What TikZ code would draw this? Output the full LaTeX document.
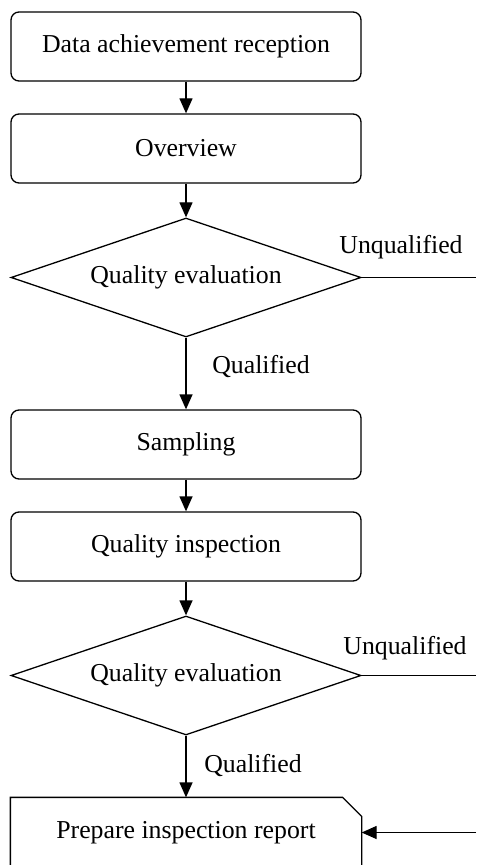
\documentclass[tikz,border=0pt]{standalone}
\usepackage{fontspec}
\setmainfont{Liberation Serif}
\usetikzlibrary{shapes.geometric}
\usetikzlibrary{arrows.meta}
\tikzset{
  stepbox/.style={draw, rounded corners=4pt, minimum width=175pt, minimum height=34.5pt, inner sep=0pt},
  decision/.style={draw, diamond, aspect=2.9, minimum width=175pt, minimum height=59.5pt, inner sep=0pt},
  flow/.style={-{Triangle[length=7.5pt,width=6.5pt]}}
}

\begin{document}
\begin{tikzpicture}[x=0.5pt, y=-0.5pt, line width=0.65pt, font=\fontsize{12.9}{15.5}\selectfont]
    \useasboundingbox (0,0) rectangle (476,865);
    \clip (0,0) rectangle (476,865);
    % steps
    \node[stepbox] (recv) at (186,46.5) {Data achievement reception};
    \node[stepbox] (over) at (186,148.5) {Overview};
    \node[decision] (eval1) at (186,277.5) {Quality evaluation};
    \node[stepbox] (samp) at (186,444.5) {Sampling};
    \node[stepbox] (insp) at (186,546.5) {Quality inspection};
    \node[decision] (eval2) at (186,675.5) {Quality evaluation};
    % report, top right corner cut
    \node[minimum width=175pt, minimum height=34.5pt, inner sep=0pt] (report) at (186,832.5) {Prepare inspection report};
    \draw (report.south west) -- (report.north west) -- ([xshift=-9.5pt]report.north east)
        -- ([yshift=-9.5pt]report.north east) -- (report.south east) -- cycle;
    % labels
    \node (unq1) at (401,247) {Unqualified};
    \node (qual1) at (261,367) {Qualified};
    \node (unq2) at (405,648) {Unqualified};
    \node (qual2) at (253,765) {Qualified};
    % loose ends at the right edge
    \coordinate (out1) at (476,277.5);
    \coordinate (out2) at (476,675.5);
    \coordinate (back) at (476,832.5);
    % connectors
    \draw[flow] (recv) -- (over);
    \draw[flow] (over) -- (eval1);
    \draw[flow] (eval1) -- (samp);
    \draw[flow] (samp) -- (insp);
    \draw[flow] (insp) -- (eval2);
    \draw[flow] (eval2) -- (report);
    \draw (eval1) -- (out1);
    \draw (eval2) -- (out2);
    \draw[flow] (back) -- (report);
\end{tikzpicture}
\end{document}
